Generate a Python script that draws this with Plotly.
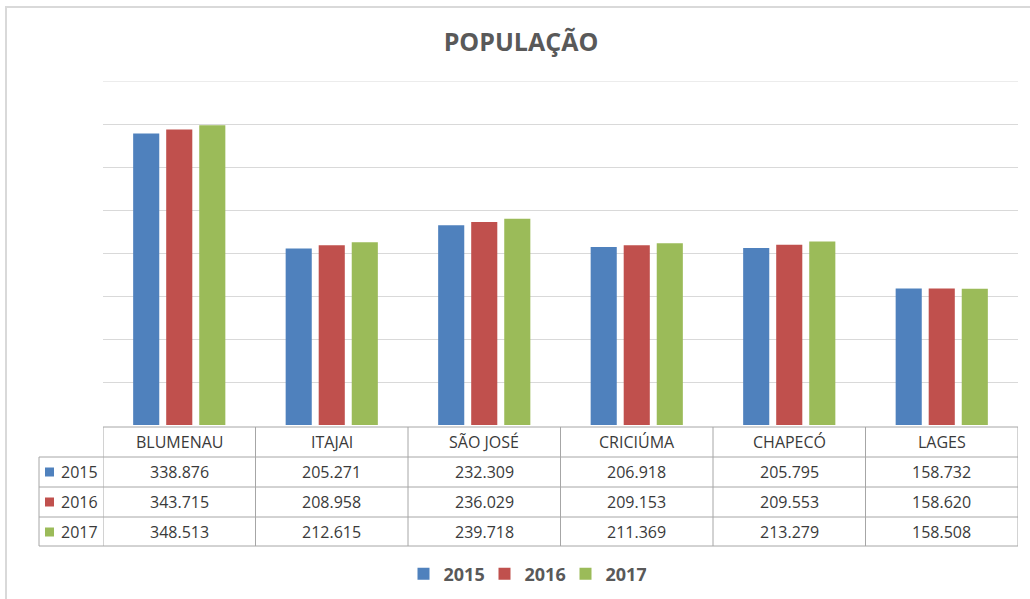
import plotly.graph_objects as go

cities = ["BLUMENAU", "ITAJAI", "SÃO JOSÉ", "CRICIÚMA", "CHAPECÓ", "LAGES"]
years = ["2015", "2016", "2017"]
pop_2015 = [338876, 205271, 232309, 206918, 205795, 158732]
pop_2016 = [343715, 208958, 236029, 209153, 209553, 158620]
pop_2017 = [348513, 212615, 239718, 211369, 213279, 158508]
colors = ["#4f81bd", "#c0504d", "#9bbb59"]

W, H = 1030, 599
FONT = "Open Sans"


def px(x):
    return x / W


def py(y):
    return 1 - y / H


def fmt(v):
    # brazilian thousand separator
    return f"{v:,}".replace(",", ".")


series = [pop_2015, pop_2016, pop_2017]

fig = go.Figure()
for year, vals, col in zip(years, series, colors):
    fig.add_trace(go.Bar(x=cities, y=vals, name=year, marker=dict(color=col, line=dict(width=0))))

# table rows (pixel tops of each row)
head_top, row_h = 427, 30
tab_left, tab_right = 39, 1018
shapes = []
annotations = []

# chart frame
shapes.append(dict(type="rect", xref="paper", yref="paper", x0=px(6), x1=1.2, y0=-0.2, y1=py(7),
                   line=dict(color="#d9d9d9", width=2)))

line_col = "#a6a6a6"
# horizontal lines
shapes.append(dict(type="line", xref="paper", yref="paper", x0=px(103), x1=px(tab_right),
                   y0=py(head_top), y1=py(head_top), line=dict(color=line_col, width=1)))
for i in range(1, 5):
    yy = head_top + i * row_h - (1 if i == 4 else 0)
    shapes.append(dict(type="line", xref="paper", yref="paper", x0=px(tab_left), x1=px(tab_right),
                       y0=py(yy), y1=py(yy), line=dict(color=line_col, width=1)))
# vertical lines
shapes.append(dict(type="line", xref="paper", yref="paper", x0=px(tab_left), x1=px(tab_left),
                   y0=py(head_top + row_h), y1=py(head_top + 4 * row_h - 1), line=dict(color=line_col, width=1)))
for i in range(len(cities) + 1):
    shapes.append(dict(type="line", xref="x", yref="paper", x0=i - 0.5, x1=i - 0.5,
                       y0=py(head_top), y1=py(head_top + 4 * row_h - 1), line=dict(color=line_col, width=1)))

# top gridline (plotly skips the one at the range edge)
shapes.append(dict(type="line", xref="paper", yref="y", x0=px(103), x1=px(tab_right),
                   y0=400000, y1=400000, line=dict(color="#d9d9d9", width=1)))

txt_font = dict(family=FONT, size=16, color="#3a3a3a")
for i, c in enumerate(cities):
    annotations.append(dict(x=c, xref="x", y=py(head_top + row_h / 2), yref="paper", text=c,
                            showarrow=False, font=txt_font, xanchor="center", yanchor="middle"))
for r, (year, vals, col) in enumerate(zip(years, series, colors)):
    yc = head_top + (r + 1.5) * row_h
    for c, v in zip(cities, vals):
        annotations.append(dict(x=c, xref="x", y=py(yc), yref="paper", text=fmt(v),
                                showarrow=False, font=txt_font, xanchor="center", yanchor="middle"))
    shapes.append(dict(type="rect", xref="paper", yref="paper", x0=px(45), x1=px(54),
                       y0=py(yc + 4.5), y1=py(yc - 4.5), fillcolor=col, line=dict(width=0)))
    annotations.append(dict(x=px(100), xref="paper", y=py(yc), yref="paper", text=year,
                            showarrow=False, font=txt_font, xanchor="right", yanchor="middle"))

fig.update_layout(
    width=W, height=H, autosize=False,
    margin=dict(l=0, r=0, t=0, b=0),
    paper_bgcolor="white", plot_bgcolor="white",
    barmode="group", bargap=0.35, bargroupgap=0.21,
    title=dict(text="POPULAÇÃO", x=px(521), xanchor="center", y=py(42), yanchor="middle",
               font=dict(family=FONT, size=25, color="#595959", weight="bold")),
    xaxis=dict(domain=[px(103), px(tab_right)], range=[-0.5, 5.5], showticklabels=False,
               showgrid=False, showline=False, zeroline=False, ticks=""),
    yaxis=dict(domain=[py(425), py(81)], range=[0, 400000], dtick=50000, showticklabels=False,
               showgrid=True, gridcolor="#d9d9d9", gridwidth=1, zeroline=False, showline=False),
    legend=dict(orientation="h", x=px(525), xanchor="center", y=py(574), yanchor="middle",
                font=dict(family=FONT, size=18, color="#595959", weight="bold"),
                traceorder="normal", itemclick=False, entrywidth=36, entrywidthmode="pixels"),
    shapes=shapes,
    annotations=annotations,
    showlegend=True,
)

fig.write_html("out.html", config={"displayModeBar": False},
               post_script="document.body.style.margin='0';document.body.style.overflow='hidden';")
